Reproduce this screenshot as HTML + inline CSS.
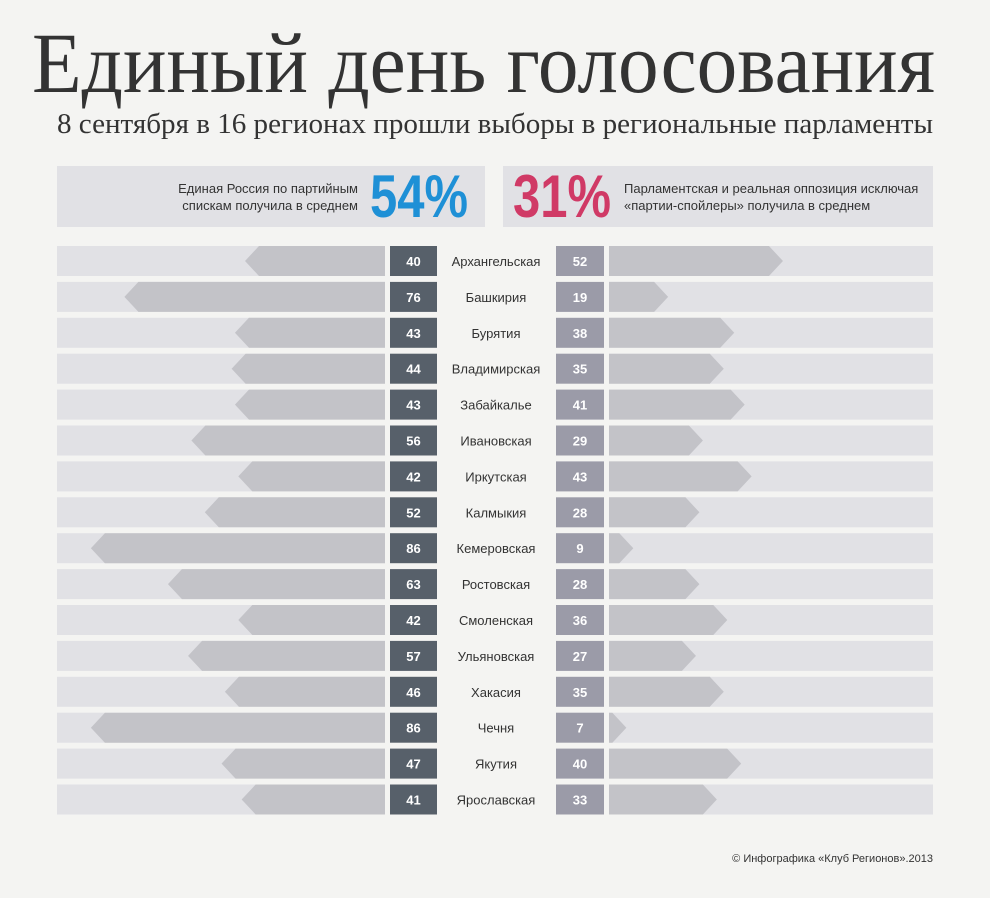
<!DOCTYPE html>
<html><head><meta charset="utf-8"><style>
html,body{margin:0;padding:0;background:#f4f4f2;}
svg{display:block;}
</style></head><body>
<svg id="chart" width="990" height="898" viewBox="0 0 990 898" font-family="'Liberation Sans', 'Noto Sans CJK SC', sans-serif">
<rect x="0" y="0" width="990" height="898" fill="#f4f4f2"/>
<text x="32" y="92" font-family="'Liberation Serif', 'Noto Serif CJK SC', serif" font-size="86" fill="#333" textLength="903" lengthAdjust="spacingAndGlyphs">Единый день голосования</text>
<text x="57" y="133" font-family="'Liberation Serif', 'Noto Serif CJK SC', serif" font-size="28" fill="#333" textLength="876" lengthAdjust="spacingAndGlyphs">8 сентября в 16 регионах прошли выборы в региональные парламенты</text>
<rect x="57" y="166" width="428" height="61" fill="#e1e1e5"/>
<text x="358" y="193" font-size="13" fill="#333" text-anchor="end">Единая Россия по партийным</text>
<text x="358" y="210" font-size="13" fill="#333" text-anchor="end">спискам получила в среднем</text>
<text x="370" y="217" font-size="60" font-weight="bold" fill="#1e90d6" textLength="98" lengthAdjust="spacingAndGlyphs">54%</text>
<rect x="503" y="166" width="430" height="61" fill="#e1e1e5"/>
<text x="513" y="217" font-size="60" font-weight="bold" fill="#d03a66" textLength="98" lengthAdjust="spacingAndGlyphs">31%</text>
<text x="624" y="193" font-size="13" fill="#333">Парламентская и реальная оппозиция исключая</text>
<text x="624" y="210" font-size="13" fill="#333">«партии-спойлеры» получила в среднем</text>
<g id="rows"></g>
<text x="933" y="862" font-size="11" fill="#333" text-anchor="end">© Инфографика «Клуб Регионов».2013</text>
</svg>
<script>
const regions = ["Архангельская","Башкирия","Бурятия","Владимирская","Забайкалье","Ивановская","Иркутская","Калмыкия","Кемеровская","Ростовская","Смоленская","Ульяновская","Хакасия","Чечня","Якутия","Ярославская"];
const rulingValues = [40,76,43,44,43,56,42,52,86,63,42,57,46,86,47,41];
const oppositionValues = [52,19,38,35,41,29,43,28,9,28,36,27,35,7,40,33];

const NS = "http://www.w3.org/2000/svg";
const g = document.getElementById("rows");
function leftLen(v){ return 3.35*v + 6; }
function rightLen(v){ return 3.48*v - 7; }
function rowY(i){ return 246 + i*35.9; }
function mk(tag, attrs){ const e=document.createElementNS(NS,tag); for(const k in attrs) e.setAttribute(k,attrs[k]); g.appendChild(e); return e; }
const H=30, TIP=14;
regions.forEach((r,i)=>{
  const y=rowY(i);
  let e;
  e=mk("rect",{x:57,y:y,width:328,height:H,fill:"#e1e1e5"});
  
  
  const lt=385-leftLen(rulingValues[i]);
  e=mk("polygon",{points:`385,${y} ${lt+TIP},${y} ${lt},${y+H/2} ${lt+TIP},${y+H} 385,${y+H}`,fill:"#c3c3c8"});
  
  
  e=mk("rect",{x:390,y:y,width:47,height:H,fill:"#57606a"});
  
  
  e=mk("text",{x:413.5,y:y+20,"text-anchor":"middle","font-size":13,"font-weight":"bold",fill:"#fff"});
  e.textContent=rulingValues[i];
  
  
  e=mk("text",{x:496,y:y+20,"text-anchor":"middle","font-size":13,fill:"#333"});
  e.textContent=r;
  
  
  e=mk("rect",{x:556,y:y,width:48,height:H,fill:"#9b9ba8"});
  
  
  e=mk("text",{x:580,y:y+20,"text-anchor":"middle","font-size":13,"font-weight":"bold",fill:"#fff"});
  e.textContent=oppositionValues[i];
  
  
  e=mk("rect",{x:609,y:y,width:324,height:H,fill:"#e1e1e5"});
  
  
  const rt=609+rightLen(oppositionValues[i]);
  const body=Math.max(609,rt-TIP);
  e=mk("polygon",{points:`609,${y} ${body},${y} ${rt},${y+H/2} ${body},${y+H} 609,${y+H}`,fill:"#c3c3c8"});
  
  
});
</script>
</body></html>
